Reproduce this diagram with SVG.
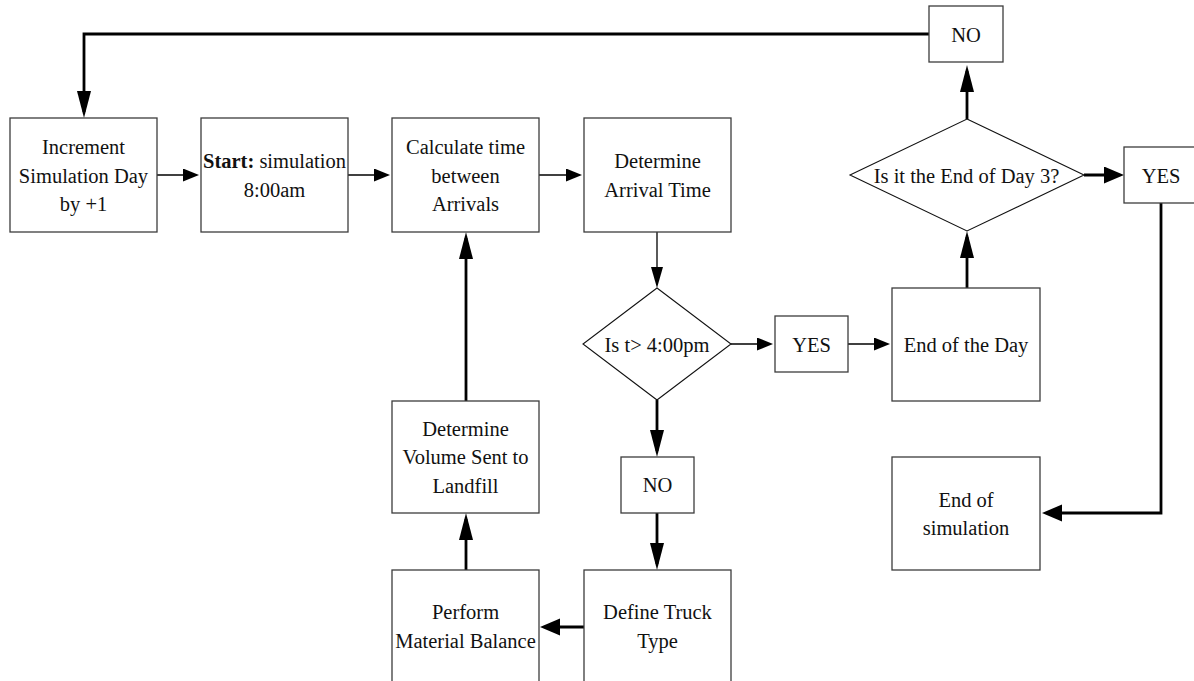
<svg xmlns="http://www.w3.org/2000/svg" width="1194" height="681" viewBox="0 0 1194 681">
  <style>
    .box { fill: #ffffff; stroke: #3c3c3c; stroke-width: 1.3; }
    .dia { fill: #ffffff; stroke: #111111; stroke-width: 1.1; }
    .lbl { font-family: "Liberation Serif", "Times New Roman", serif; font-size: 20.5px; fill: #111111; text-anchor: middle; }
    .b { font-weight: bold; }
    .thin { fill: none; stroke: #000000; stroke-width: 1.3; }
    .thick { fill: none; stroke: #000000; stroke-width: 2.8; }
  </style>
  <defs>
    <!-- thin arrowheads -->
    <marker id="thinH" markerUnits="userSpaceOnUse" markerWidth="17" markerHeight="14" refX="12" refY="6.5" orient="auto">
      <path d="M0,0 L16,6.5 L0,13 Z" fill="#000"/>
    </marker>
    <marker id="thinV" markerUnits="userSpaceOnUse" markerWidth="22" markerHeight="13" refX="17" refY="6" orient="auto">
      <path d="M0,0 L21,6 L0,12 Z" fill="#000"/>
    </marker>
    <!-- heavy arrowheads -->
    <marker id="thickH" markerUnits="userSpaceOnUse" markerWidth="21" markerHeight="18" refX="14" refY="8.5" orient="auto">
      <path d="M0,0 L20,8.5 L0,17 Z" fill="#000"/>
    </marker>
    <marker id="thickV" markerUnits="userSpaceOnUse" markerWidth="28" markerHeight="15" refX="21" refY="7" orient="auto">
      <path d="M0,0 L27,7 L0,14 Z" fill="#000"/>
    </marker>
  </defs>

  <rect width="1194" height="681" fill="#ffffff"/>

  <!-- connectors -->
  <g id="connectors">
    <path class="thin" d="M157,175 H195" marker-end="url(#thinH)"/>
    <path class="thin" d="M348,175 H386" marker-end="url(#thinH)"/>
    <path class="thin" d="M539,175 H578" marker-end="url(#thinH)"/>
    <path class="thin" d="M657,232 V284" marker-end="url(#thinV)"/>
    <path class="thin" d="M731,344 H769" marker-end="url(#thinH)"/>
    <path class="thin" d="M848,344 H886" marker-end="url(#thinH)"/>

    <path class="thick" d="M929,34 H84 V112" marker-end="url(#thickV)"/>
    <path class="thick" d="M657,400 V451" marker-end="url(#thickV)"/>
    <path class="thick" d="M657,513 V564" marker-end="url(#thickV)"/>
    <path class="thick" d="M584,627 H546" marker-end="url(#thickH)"/>
    <path class="thick" d="M466,570 V519" marker-end="url(#thickV)"/>
    <path class="thick" d="M466,401 V238" marker-end="url(#thickV)"/>
    <path class="thick" d="M967,288 V237" marker-end="url(#thickV)"/>
    <path class="thick" d="M967,119 V71" marker-end="url(#thickV)"/>
    <path class="thick" d="M1084,175 H1118" marker-end="url(#thickH)"/>
    <path class="thick" d="M1161,203 V513 H1048" marker-end="url(#thickH)"/>
  </g>

  <!-- nodes -->
  <g id="increment-day">
    <rect class="box" x="10" y="118" width="147" height="114"/>
    <text class="lbl" x="83.5" y="154">Increment</text>
    <text class="lbl" x="83.5" y="182.5">Simulation Day</text>
    <text class="lbl" x="83.5" y="211">by +1</text>
  </g>

  <g id="start">
    <rect class="box" x="201" y="118" width="147" height="114"/>
    <text class="lbl" x="274.5" y="168"><tspan class="b">Start:</tspan> simulation</text>
    <text class="lbl" x="274.5" y="196.5">8:00am</text>
  </g>

  <g id="calc-interarrival">
    <rect class="box" x="392" y="118" width="147" height="114"/>
    <text class="lbl" x="465.5" y="154">Calculate time</text>
    <text class="lbl" x="465.5" y="182.5">between</text>
    <text class="lbl" x="465.5" y="211">Arrivals</text>
  </g>

  <g id="arrival-time">
    <rect class="box" x="584" y="118" width="147" height="114"/>
    <text class="lbl" x="657.5" y="168">Determine</text>
    <text class="lbl" x="657.5" y="196.5">Arrival Time</text>
  </g>

  <g id="check-4pm">
    <polygon class="dia" points="657,288 731,344 657,400 583,344"/>
    <text class="lbl" x="657" y="352">Is t&gt; 4:00pm</text>
  </g>

  <g id="yes-4pm">
    <rect class="box" x="775" y="316" width="73" height="56"/>
    <text class="lbl" x="811.5" y="351.5">YES</text>
  </g>

  <g id="end-of-day">
    <rect class="box" x="892" y="288" width="148" height="113"/>
    <text class="lbl" x="966" y="352">End of the Day</text>
  </g>

  <g id="check-day3">
    <polygon class="dia" points="967,119 1084,175 967,231 850,175"/>
    <text class="lbl" x="966.5" y="183">Is it the End of Day 3?</text>
  </g>

  <g id="no-day3">
    <rect class="box" x="929" y="6" width="74" height="56"/>
    <text class="lbl" x="966" y="41.5">NO</text>
  </g>

  <g id="yes-day3">
    <rect class="box" x="1124" y="147" width="74" height="56"/>
    <text class="lbl" x="1161" y="182.5">YES</text>
  </g>

  <g id="end-of-simulation">
    <rect class="box" x="892" y="457" width="148" height="113"/>
    <text class="lbl" x="966" y="506.5">End of</text>
    <text class="lbl" x="966" y="535">simulation</text>
  </g>

  <g id="landfill-volume">
    <rect class="box" x="392" y="401" width="147" height="112"/>
    <text class="lbl" x="465.5" y="436">Determine</text>
    <text class="lbl" x="465.5" y="464">Volume Sent to</text>
    <text class="lbl" x="465.5" y="492.5">Landfill</text>
  </g>

  <g id="no-4pm">
    <rect class="box" x="621" y="457" width="73" height="56"/>
    <text class="lbl" x="657.5" y="492">NO</text>
  </g>

  <g id="material-balance">
    <rect class="box" x="392" y="570" width="147" height="113"/>
    <text class="lbl" x="465.5" y="619">Perform</text>
    <text class="lbl" x="465.5" y="647.5">Material Balance</text>
  </g>

  <g id="truck-type">
    <rect class="box" x="584" y="570" width="147" height="113"/>
    <text class="lbl" x="657.5" y="619">Define Truck</text>
    <text class="lbl" x="657.5" y="647.5">Type</text>
  </g>
</svg>
